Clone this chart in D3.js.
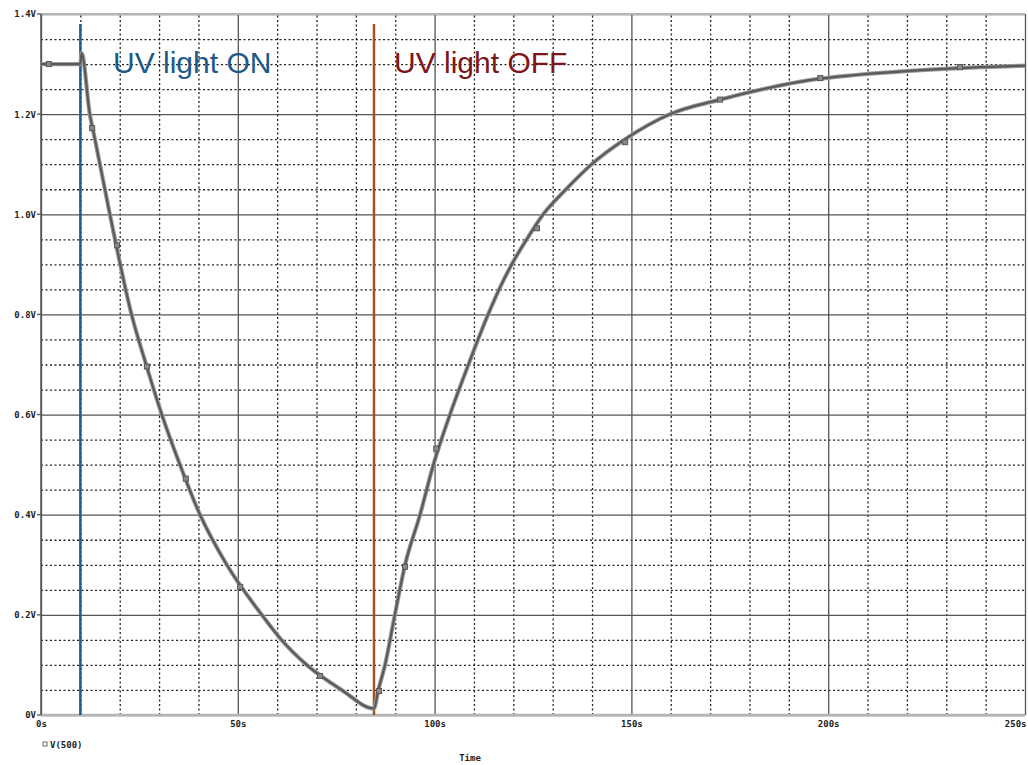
<!DOCTYPE html>
<html>
<head>
<meta charset="utf-8">
<script src="https://cdn.jsdelivr.net/npm/d3@7"></script>
<style>
  html, body { margin: 0; padding: 0; background: #fff; }
  svg { display: block; }
  .tick text { font-family: "DejaVu Sans Mono", monospace; font-weight: bold; font-size: 9px; fill: #222; }
</style>
</head>
<body>
<svg id="chart" width="1028" height="765"></svg>
<script>
// ---- data ----
const timeS = [0, 10, 10.3, 12.4, 13.7, 17.5, 23.0, 26.7, 30.7, 35.3, 40.4, 47.2, 56.1, 61.1, 67.5, 76.4, 84.6,
               85.7, 87.4, 89.9, 92.5, 96.3, 99.7, 103.9, 108.6, 113.6, 116.4, 119.6, 123.4, 127.6, 133.4, 139.9,
               148.4, 159.8, 172.5, 193, 218, 250];
const voltV = [1.3, 1.3, 1.322, 1.2, 1.15, 1.0, 0.8, 0.7, 0.6, 0.5, 0.4, 0.3, 0.2, 0.15, 0.1, 0.05, 0.013,
               0.05, 0.1, 0.2, 0.3, 0.4, 0.5, 0.6, 0.7, 0.8, 0.85, 0.9, 0.95, 1.0, 1.05, 1.1,
               1.15, 1.2, 1.229, 1.265, 1.285, 1.297];
const markerT = [2, 13, 19.3, 26.9, 36.8, 50.6, 70.9, 85.9, 92.5, 100.4, 126, 148.4, 172.5, 198, 233.5];
const markerV = [1.3, 1.172, 0.938, 0.696, 0.472, 0.256, 0.078, 0.048, 0.296, 0.532, 0.972, 1.144, 1.229, 1.272, 1.294];
const xMajorTicks = [0, 50, 100, 150, 200, 250];
const yMajorTicks = [0, 0.2, 0.4, 0.6, 0.8, 1.0, 1.2, 1.4];
const eventTimes = [10, 84.6];
const eventLabels = ["UV light ON", "UV light OFF"];
const eventColors = ["#1d5b94", "#a2521f"];
const labelColors = ["#1d5a8c", "#7e1518"];
const legendLabel = "V(500)";
const xTitle = "Time";

// ---- layout ----
const svg = d3.select("#chart");
const x = d3.scaleLinear().domain([0, 250]).range([41, 1025]);
const y = d3.scaleLinear().domain([0, 1.4]).range([715, 14]);
const pTop = y(1.4), pBottom = y(0), pLeft = x(0), pRight = x(250);

// minor grid (dotted)
const xMinor = d3.range(0, 251, 10).filter(v => v % 50 !== 0);
const yMinor = d3.range(0, 1.401, 0.05).filter(v => Math.abs(v / 0.2 - Math.round(v / 0.2)) > 1e-6);
svg.append("g").attr("transform", `translate(0,${pBottom})`)
  .call(d3.axisBottom(x).tickValues(xMinor).tickSize(-(pBottom - pTop)).tickFormat(""))
  .call(g => g.select(".domain").remove())
  .call(g => g.selectAll("line").attr("stroke", "#222").attr("stroke-width", 1.3).attr("stroke-dasharray", "2,2.5"));
svg.append("g").attr("transform", `translate(${pLeft},0)`)
  .call(d3.axisLeft(y).tickValues(yMinor).tickSize(-(pRight - pLeft)).tickFormat(""))
  .call(g => g.select(".domain").remove())
  .call(g => g.selectAll("line").attr("stroke", "#222").attr("stroke-width", 1.3).attr("stroke-dasharray", "2,2.5"));

// major grid + labels
svg.append("g").attr("transform", `translate(0,${pBottom})`)
  .call(d3.axisBottom(x).tickValues(xMajorTicks).tickSize(-(pBottom - pTop)).tickPadding(10).tickFormat(d => d + "s"))
  .call(g => g.select(".domain").remove())
  .call(g => g.selectAll("line").attr("stroke", "#555").attr("stroke-width", 1.3))
  .call(g => g.selectAll("text").attr("dy", "0.2em"))
  .call(g => g.selectAll(".tick").filter(d => d === 250).select("text").attr("text-anchor", "end").attr("dx", "1"));
svg.append("g").attr("transform", `translate(${pLeft},0)`)
  .call(d3.axisLeft(y).tickValues(yMajorTicks).tickSize(-(pRight - pLeft)).tickPadding(5)
        .tickFormat(d => d === 0 ? "0V" : d.toFixed(1) + "V"))
  .call(g => g.select(".domain").remove())
  .call(g => g.selectAll("line").attr("stroke", "#555").attr("stroke-width", 1.3));

// frame lines
svg.append("line").attr("x1", pLeft).attr("x2", pRight).attr("y1", pTop).attr("y2", pTop)
  .attr("stroke", "#b5b5b5").attr("stroke-width", 2);
svg.append("line").attr("x1", pLeft).attr("x2", pRight).attr("y1", pBottom).attr("y2", pBottom)
  .attr("stroke", "#b5b5b5").attr("stroke-width", 2.5);
svg.append("line").attr("x1", pLeft).attr("x2", pLeft).attr("y1", pTop).attr("y2", pBottom)
  .attr("stroke", "#555").attr("stroke-width", 1.5);
svg.append("g").selectAll("line").data(yMajorTicks).join("line")
  .attr("x1", pLeft - 4).attr("x2", pLeft).attr("y1", d => y(d)).attr("y2", d => y(d))
  .attr("stroke", "#555").attr("stroke-width", 1.3);

// event lines
svg.append("g").selectAll("line").data(eventTimes).join("line")
  .attr("x1", d => x(d)).attr("x2", d => x(d))
  .attr("y1", 24).attr("y2", pBottom)
  .attr("stroke", (d, i) => eventColors[i]).attr("stroke-width", 2.5);

// curve
const pts = timeS.map((t, i) => [t, voltV[i]]);
const line = d3.line().x(d => x(d[0])).y(d => y(d[1])).curve(d3.curveMonotoneX);
svg.append("path").datum(pts).attr("d", line)
  .attr("fill", "none").attr("stroke", "#9a9a9a").attr("stroke-width", 4.2).attr("stroke-linejoin", "round");
svg.append("path").datum(pts).attr("d", line)
  .attr("fill", "none").attr("stroke", "#5a5a5a").attr("stroke-width", 2.2).attr("stroke-linejoin", "round");

// markers
svg.append("g").selectAll("rect").data(markerT.map((t, i) => [t, markerV[i]])).join("rect")
  .attr("x", d => x(d[0]) - 2.5).attr("y", d => y(d[1]) - 2.5)
  .attr("width", 5).attr("height", 5)
  .attr("fill", "#8a8a8a").attr("stroke", "#555").attr("stroke-width", 1);

// event labels
const labelX = [113, 394];
svg.append("g").selectAll("text").data(eventLabels).join("text")
  .attr("x", (d, i) => labelX[i]).attr("y", 73)
  .attr("font-family", "Liberation Sans, Arial, sans-serif")
  .attr("font-size", 30)
  .attr("fill", (d, i) => labelColors[i])
  .text(d => d);

// legend
svg.append("rect").attr("x", 43).attr("y", 742).attr("width", 4).attr("height", 4)
  .attr("fill", "none").attr("stroke", "#444").attr("stroke-width", 0.8);
svg.append("text").attr("x", 50).attr("y", 748)
  .attr("font-family", "DejaVu Sans Mono, monospace").attr("font-weight", "bold").attr("font-size", 9)
  .attr("fill", "#222").text(legendLabel);

// x title
svg.append("text").attr("x", 470).attr("y", 761).attr("text-anchor", "middle")
  .attr("font-family", "DejaVu Sans Mono, monospace").attr("font-weight", "bold").attr("font-size", 9)
  .attr("fill", "#222").text(xTitle);
</script>
</body>
</html>
